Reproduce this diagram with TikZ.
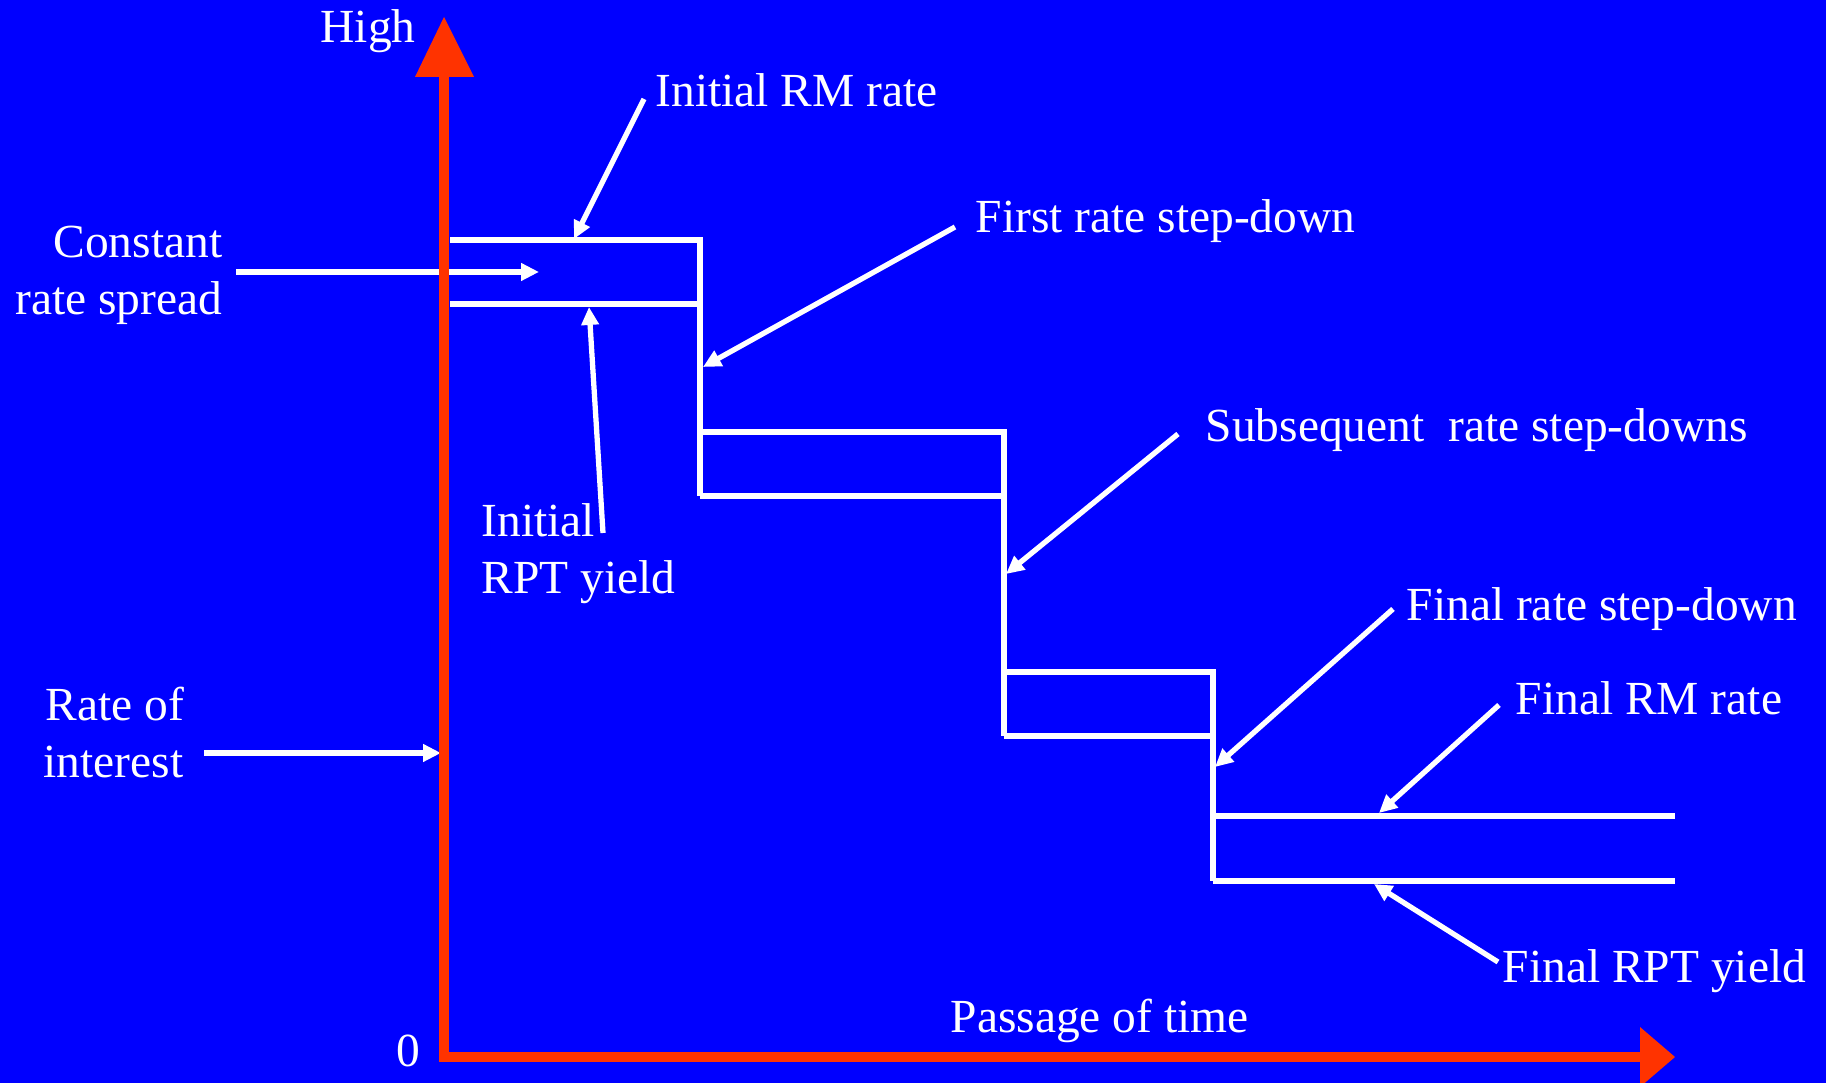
\documentclass[tikz,border=0pt]{standalone}
\usepackage{fontspec}
\setmainfont{Liberation Serif}
\usetikzlibrary{arrows.meta}
\definecolor{bgblue}{RGB}{0,0,255}
\definecolor{axisred}{RGB}{255,51,0}
\begin{document}
\begin{tikzpicture}[x=0.01cm,y=-0.01cm,
  lbl/.style={text=white,inner sep=0,font=\fontsize{13.5}{16}\selectfont},
  wl/.style={white,line width=1.5pt,line join=miter},
  pointer/.style={white,line width=1.5pt,-{Triangle[length=5.1pt,width=4.8pt]}},
  axisline/.style={axisred,line width=3.1pt},
  axishead/.style={fill=axisred,draw=none}
]
\fill[bgblue] (0,0) rectangle (1826,1083);
\useasboundingbox (0,0) rectangle (1826,1083);

% labels
\node[lbl,anchor=base west] (high) at (320,43) {High};
\node[lbl,anchor=base west] (rmrate) at (655,107) {Initial RM rate};
\node[lbl,anchor=base west] (first) at (975,233) {First rate step-down};
\node[lbl,anchor=base east] (constA) at (223,258) {Constant};
\node[lbl,anchor=base east] (constB) at (223,315) {rate spread};
\node[lbl,anchor=base west] (rptA) at (481,537) {Initial};
\node[lbl,anchor=base west] (rptB) at (481,594) {RPT yield};
\node[lbl,anchor=base west] (subseq) at (1205,442) {Subsequent\ \ rate step-downs};
\node[lbl,anchor=base west] (finalstep) at (1406,621) {Final rate step-down};
\node[lbl,anchor=base west] (finalrm) at (1515,715) {Final RM rate};
\node[lbl,anchor=base west] (finalrpt) at (1502,983) {Final RPT yield};
\node[lbl,anchor=base west] (roiA) at (45,721) {Rate of};
\node[lbl,anchor=base west] (roiB) at (43,778) {interest};
\node[lbl,anchor=base west] (time) at (950,1033) {Passage of time};
\node[lbl,anchor=base] (zero) at (408,1067) {0};

% step structure
\draw[wl] (450,240) -- (700,240) -- (700,496);
\draw[wl] (450,304) -- (700,304);
\draw[wl] (700,432) -- (1004,432) -- (1004,736);
\draw[wl] (700,496) -- (1004,496);
\draw[wl] (1004,672) -- (1213,672) -- (1213,881);
\draw[wl] (1004,736) -- (1213,736);
\draw[wl] (1213,816) -- (1675,816);
\draw[wl] (1213,881) -- (1675,881);

% arrow end points
\coordinate (sRM) at (644,99);   \coordinate (tRM) at (574,239);
\coordinate (sSP) at (236,272);  \coordinate (tSP) at (539,272);
\coordinate (sRPT) at (603,533); \coordinate (tRPT) at (589,307);
\coordinate (sFS) at (955,227);  \coordinate (tFS) at (703,367);
\coordinate (sSub) at (1178,434); \coordinate (tSub) at (1006,574);
\coordinate (sFin) at (1393,609); \coordinate (tFin) at (1215,767);
\coordinate (sFRM) at (1499,705); \coordinate (tFRM) at (1379,813);
\coordinate (sFRPT) at (1498,962); \coordinate (tFRPT) at (1374,884);
\coordinate (sROI) at (204,753); \coordinate (tROI) at (441,753);

\draw[pointer] (sRM) -- (tRM);
\draw[pointer] (sSP) -- (tSP);
\draw[pointer] (sRPT) -- (tRPT);
\draw[pointer] (sFS) -- (tFS);
\draw[pointer] (sSub) -- (tSub);
\draw[pointer] (sFin) -- (tFin);
\draw[pointer] (sFRM) -- (tFRM);
\draw[pointer] (sFRPT) -- (tFRPT);
\draw[pointer] (sROI) -- (tROI);

% axes
\coordinate (origin) at (444,1057);
\coordinate (ytip) at (444,17);
\coordinate (xtip) at (1675,1057);
\draw[axisline] (444,1062) -- (444,74);
\fill[axishead] (415,77) -- (474,77) -- (ytip) -- cycle;
\draw[axisline] (439,1057) -- (1642,1057);
\fill[axishead] (1640,1027) -- (1640,1087) -- (xtip) -- cycle;
\end{tikzpicture}
\end{document}
